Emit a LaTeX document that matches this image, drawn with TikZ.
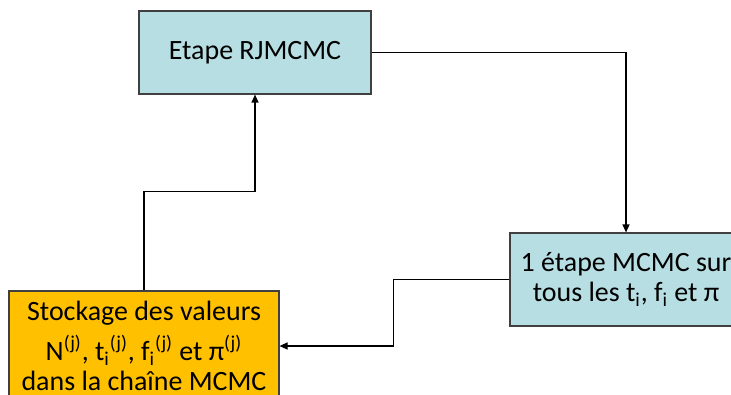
\documentclass[tikz,border=0pt]{standalone}
\usepackage{fontspec}
\setmainfont{Carlito}
\usepackage{tikz}
\usetikzlibrary{arrows.meta, positioning}
\definecolor{stepblue}{RGB}{183,222,226}
\definecolor{storeorange}{RGB}{255,192,0}

\begin{document}
\begin{tikzpicture}[
  box/.style={draw=black!75, line width=0.7pt, minimum width=4.64cm, inner sep=0pt, align=center, font=\fontsize{15.9}{17}\selectfont},
  arr/.style={-{Triangle[length=4.5pt, width=4pt]}, line width=0.6pt}
]
\useasboundingbox (0,0) rectangle (14.62,7.88);
\node[box, fill=stepblue, minimum height=1.66cm] (rjmcmc) at (5.10,6.83) {Etape RJMCMC};
\node[box, fill=stepblue, minimum height=1.86cm] (mcmc) at (12.52,2.29) {1 étape MCMC sur\\tous les t\textsubscript{i}, f\textsubscript{i} et π};
\node[box, fill=storeorange, minimum width=5.40cm, minimum height=2.20cm] (store) at (2.88,0.96)
  {Stockage des valeurs\\[4.5pt]N\textsuperscript{(j)}, t\textsubscript{i}\textsuperscript{(j)}, f\textsubscript{i}\textsuperscript{(j)} et π\textsuperscript{(j)}\\dans la chaîne MCMC};
\draw[arr] (rjmcmc.east) -| (mcmc.north);
\draw[arr] (mcmc.west) -- ++(-2.32,0) |- (store.east);
\draw[arr] (store.north) -- ++(0,1.98) -| (rjmcmc.south);
\end{tikzpicture}
\end{document}
